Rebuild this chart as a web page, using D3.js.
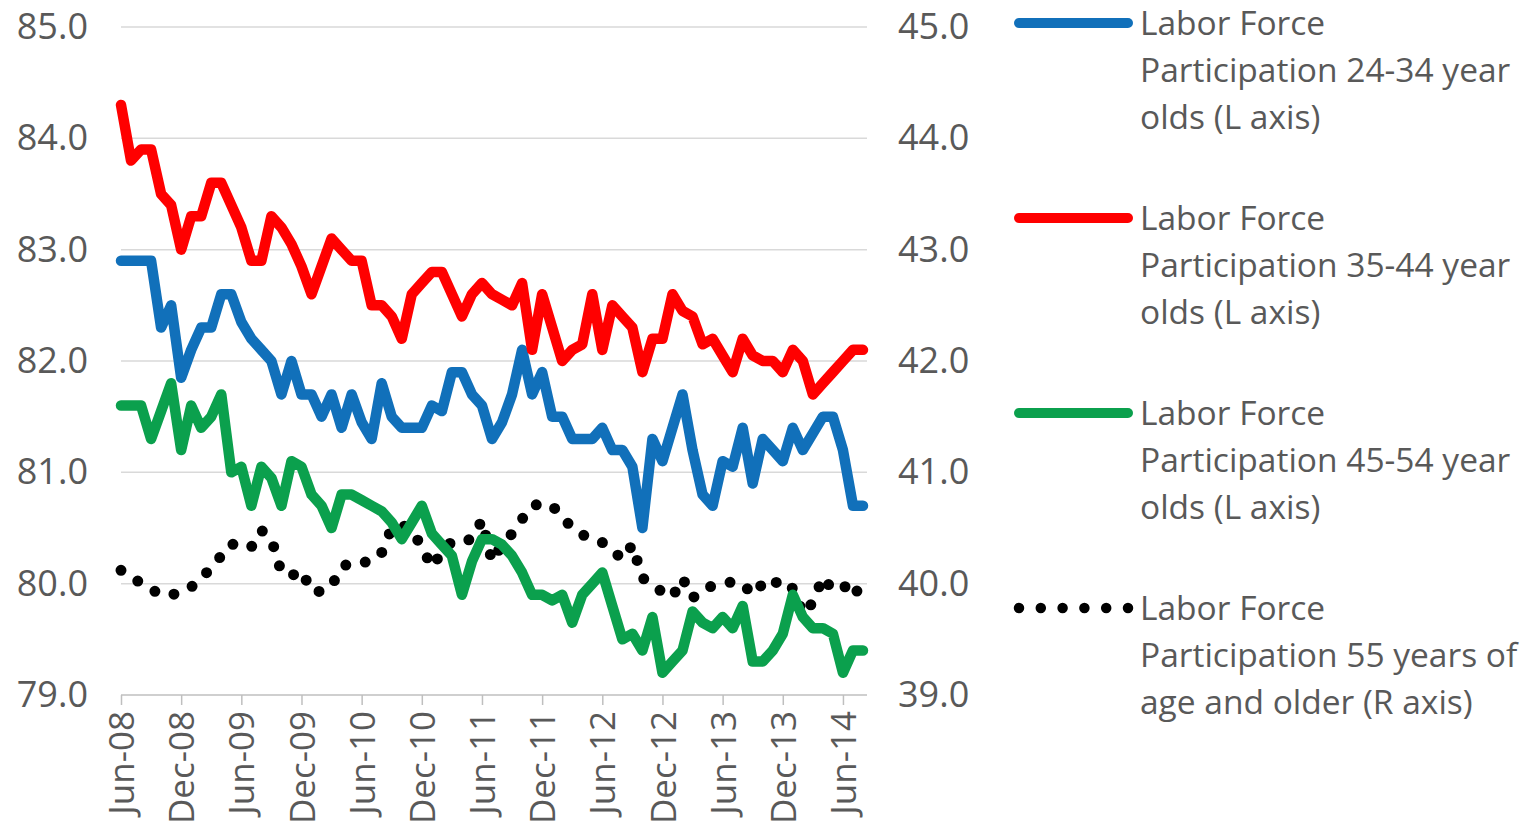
<!DOCTYPE html>
<html>
<head>
<meta charset="utf-8">
<script src="https://cdn.jsdelivr.net/npm/d3@7"></script>
<style>
  html, body { margin: 0; padding: 0; background: #fff; }
  svg { display: block; }
  text { font-family: "Open Sans", "Liberation Sans", sans-serif; fill: #595959; }
</style>
</head>
<body>
<svg id="chart" width="1540" height="827"></svg>
<script>
const months = ["Jun-08","Jul-08","Aug-08","Sep-08","Oct-08","Nov-08","Dec-08",
  "Jan-09","Feb-09","Mar-09","Apr-09","May-09","Jun-09","Jul-09","Aug-09","Sep-09","Oct-09","Nov-09","Dec-09",
  "Jan-10","Feb-10","Mar-10","Apr-10","May-10","Jun-10","Jul-10","Aug-10","Sep-10","Oct-10","Nov-10","Dec-10",
  "Jan-11","Feb-11","Mar-11","Apr-11","May-11","Jun-11","Jul-11","Aug-11","Sep-11","Oct-11","Nov-11","Dec-11",
  "Jan-12","Feb-12","Mar-12","Apr-12","May-12","Jun-12","Jul-12","Aug-12","Sep-12","Oct-12","Nov-12","Dec-12",
  "Jan-13","Feb-13","Mar-13","Apr-13","May-13","Jun-13","Jul-13","Aug-13","Sep-13","Oct-13","Nov-13","Dec-13",
  "Jan-14","Feb-14","Mar-14","Apr-14","May-14","Jun-14","Jul-14","Aug-14"];

const xTickLabels = ["Jun-08","Dec-08","Jun-09","Dec-09","Jun-10","Dec-10","Jun-11","Dec-11","Jun-12","Dec-12","Jun-13","Dec-13","Jun-14"];
const leftTicks = [79, 80, 81, 82, 83, 84, 85];
const rightTicks = [39, 40, 41, 42, 43, 44, 45];

// Labor force participation 24-34 year olds (L axis)
const lfp2434 = [82.9,82.9,82.9,82.9,82.3,82.5,81.85,82.1,82.3,82.3,
  82.6,82.6,82.35,82.2,82.1,82.0,81.7,82.0,81.7,81.7,
  81.5,81.7,81.4,81.7,81.45,81.3,81.8,81.5,81.4,81.4,
  81.4,81.6,81.55,81.9,81.9,81.7,81.6,81.3,81.45,81.7,
  82.1,81.7,81.9,81.5,81.5,81.3,81.3,81.3,81.4,81.2,
  81.2,81.05,80.5,81.3,81.1,81.4,81.7,81.2,80.8,80.7,
  81.1,81.05,81.4,80.9,81.3,81.2,81.1,81.4,81.2,81.35,
  81.5,81.5,81.2,80.7,80.7];

// Labor force participation 35-44 year olds (L axis)
const lfp3544 = [84.3,83.8,83.9,83.9,83.5,83.4,83.0,83.3,83.3,83.6,
  83.6,83.4,83.2,82.9,82.9,83.3,83.2,83.05,82.85,82.6,
  82.85,83.1,83.0,82.9,82.9,82.5,82.5,82.4,82.2,82.6,
  82.7,82.8,82.8,82.6,82.4,82.6,82.7,82.6,82.55,82.5,
  82.7,82.1,82.6,82.3,82.0,82.1,82.15,82.6,82.1,82.5,
  82.4,82.3,81.9,82.2,82.2,82.6,82.45,82.4,82.15,82.2,
  82.05,81.9,82.2,82.05,82.0,82.0,81.9,82.1,82.0,81.7,
  81.8,81.9,82.0,82.1,82.1];

// Labor force participation 45-54 year olds (L axis)
const lfp4554 = [81.6,81.6,81.6,81.3,81.55,81.8,81.2,81.6,81.4,81.5,
  81.7,81.0,81.05,80.7,81.05,80.95,80.7,81.1,81.05,80.8,
  80.7,80.5,80.8,80.8,80.75,80.7,80.65,80.55,80.4,80.55,
  80.7,80.45,80.35,80.25,79.9,80.2,80.4,80.4,80.35,80.25,
  80.1,79.9,79.9,79.85,79.9,79.65,79.9,80.0,80.1,79.8,
  79.5,79.55,79.4,79.7,79.2,79.3,79.4,79.75,79.65,79.6,
  79.7,79.6,79.8,79.3,79.3,79.4,79.55,79.9,79.7,79.6,
  79.6,79.55,79.2,79.4,79.4];

// Labor force participation 55 years and older (R axis)
const lfp55plus = [40.12,40.07,40.0,39.95,39.9,39.9,39.92,39.97,40.04,40.15,
  40.25,40.36,40.32,40.33,40.48,40.4,40.1,40.07,40.12,39.93,
  39.93,39.98,40.15,40.19,40.19,40.2,40.28,40.5,40.53,40.48,
  40.33,40.15,40.28,40.38,40.38,40.4,40.57,40.2,40.35,40.45,
  40.58,40.7,40.72,40.7,40.6,40.5,40.44,40.4,40.37,40.3,
  40.22,40.35,40.05,40.0,39.92,39.88,40.05,39.87,39.95,39.98,
  39.99,40.02,40.0,39.9,40.0,40.05,39.94,39.96,39.73,39.83,
  40.06,39.94,39.96,40.02,39.8];

const seriesNames = [
  ["Labor Force", "Participation 24-34 year", "olds (L axis)"],
  ["Labor Force", "Participation 35-44 year", "olds (L axis)"],
  ["Labor Force", "Participation 45-54 year", "olds (L axis)"],
  ["Labor Force", "Participation 55 years of", "age and older (R axis)"]
];
const seriesColors = ["#1170BA", "#FF0000", "#0BA04D", "#000000"];

const svg = d3.select("#chart");
svg.append("rect").attr("width", 1540).attr("height", 827).attr("fill", "#fff");

const x = d3.scaleLinear().domain([0, months.length - 1]).range([121, 863]);
const yL = d3.scaleLinear().domain([79, 85]).range([695, 27]);
const yR = d3.scaleLinear().domain([39, 45]).range([695, 27]);
const plotLeft = 121, plotRight = 867;

// gridlines
svg.append("g").selectAll("line")
  .data(leftTicks.filter(d => d !== 79))
  .join("line")
  .attr("x1", plotLeft).attr("x2", plotRight)
  .attr("y1", d => yL(d)).attr("y2", d => yL(d))
  .attr("stroke", "#d9d9d9").attr("stroke-width", 1.5);

// left axis
const leftAxis = svg.append("g").attr("transform", `translate(${plotLeft},0)`)
  .call(d3.axisLeft(yL).tickValues(leftTicks).tickFormat(d3.format(".1f")).tickSize(0).tickPadding(33));
leftAxis.select(".domain").remove();
leftAxis.selectAll("text").style("font-size", "36px").attr("fill", "#595959");

// right axis
const rightAxis = svg.append("g").attr("transform", `translate(${plotRight},0)`)
  .call(d3.axisRight(yR).tickValues(rightTicks).tickFormat(d3.format(".1f")).tickSize(0).tickPadding(31));
rightAxis.select(".domain").remove();
rightAxis.selectAll("text").style("font-size", "36px").attr("fill", "#595959");

// bottom axis
const xTickIdx = xTickLabels.map(l => months.indexOf(l));
const bottomAxis = svg.append("g").attr("transform", `translate(0,${yL(79)})`)
  .call(d3.axisBottom(x).tickValues(xTickIdx).tickFormat(i => months[i]).tickSize(10).tickSizeOuter(0));
bottomAxis.select(".domain").attr("d", `M${plotLeft},0H${plotRight}`).attr("stroke", "#bfbfbf").attr("stroke-width", 1.5);
bottomAxis.selectAll(".tick line").attr("stroke", "#bfbfbf").attr("stroke-width", 1.5);
bottomAxis.selectAll("text")
  .attr("transform", "rotate(-90)")
  .attr("text-anchor", "end")
  .attr("x", -16).attr("y", 0).attr("dy", "0.36em")
  .style("font-size", "35px").attr("fill", "#595959");

// lines
const lineL = d3.line().x((d, i) => x(i)).y(d => yL(d));
const lineR = d3.line().x((d, i) => x(i)).y(d => yR(d));
const leftSeries = [lfp2434, lfp3544, lfp4554];

// draw order: dotted first, then green, blue, red
svg.append("path").datum(lfp55plus)
  .attr("d", lineR).attr("fill", "none")
  .attr("stroke", seriesColors[3]).attr("stroke-width", 11)
  .attr("stroke-linecap", "round").attr("stroke-dasharray", "0,20");

[2, 0, 1].forEach(k => {
  svg.append("path").datum(leftSeries[k])
    .attr("d", lineL).attr("fill", "none")
    .attr("stroke", seriesColors[k]).attr("stroke-width", 10.5)
    .attr("stroke-linejoin", "round").attr("stroke-linecap", "round");
});

// legend
const legend = svg.append("g");
seriesNames.forEach((lines, k) => {
  const y0 = 23 + k * 195;
  const g = legend.append("g").attr("transform", `translate(0,${y0})`);
  const ln = g.append("line").attr("x1", 1019).attr("x2", 1128).attr("y1", 0).attr("y2", 0)
    .attr("stroke", seriesColors[k]).attr("stroke-linecap", "round");
  if (k === 3) {
    ln.attr("stroke-width", 10.5).attr("stroke-dasharray", "0,21.8");
  } else {
    ln.attr("stroke-width", 10);
  }
  lines.forEach((t, j) => {
    g.append("text").attr("x", 1140).attr("y", 12 + j * 47)
      .style("font-size", "33.5px").attr("fill", "#595959").text(t);
  });
});
</script>
</body>
</html>
